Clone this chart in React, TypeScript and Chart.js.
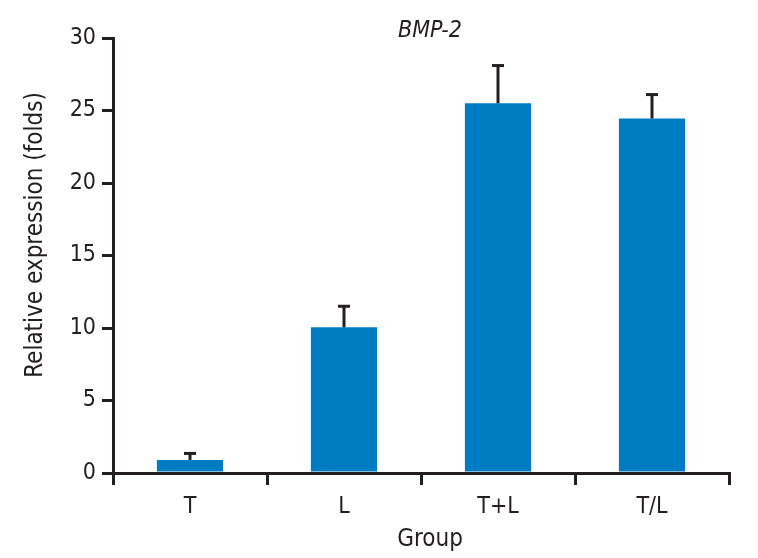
import React, { useEffect, useRef } from "react";
import { Chart, registerables } from "chart.js";

Chart.register(...registerables);

const categories = ["T", "L", "T+L", "T/L"];
const means = [0.9, 10.05, 25.5, 24.45];
const errors = [0.45, 1.45, 2.6, 1.65];
const yTicks = [0, 5, 10, 15, 20, 25, 30];
const chartTitle = "BMP-2";
const yTitle = "Relative expression (folds)";
const xTitle = "Group";

const FONT = "'Liberation Sans Narrow', 'DejaVu Sans Condensed', 'Roboto', sans-serif";
const AXIS = "#231f20";
const BAR = "#007cc3";

const decorPlugin = {
  id: "decor",
  afterDatasetsDraw(chart: any) {
    const ctx = chart.ctx;
    const y = chart.scales.y;
    const meta = chart.getDatasetMeta(0);
    ctx.save();
    ctx.strokeStyle = AXIS;
    ctx.lineWidth = 3;
    meta.data.forEach((bar: any, i: number) => {
      const x = bar.x;
      const y0 = y.getPixelForValue(means[i]);
      const y1 = y.getPixelForValue(means[i] + errors[i]);
      ctx.beginPath();
      ctx.moveTo(x, y0);
      ctx.lineTo(x, y1);
      ctx.stroke();
      ctx.beginPath();
      ctx.moveTo(x - 6, y1);
      ctx.lineTo(x + 6, y1);
      ctx.stroke();
    });
    ctx.fillStyle = AXIS;
    ctx.textAlign = "center";
    ctx.textBaseline = "middle";
    ctx.font = `italic 23px ${FONT}`;
    ctx.fillText(chartTitle, 430, 31);
    ctx.font = `24px ${FONT}`;
    ctx.fillText(xTitle, 430, 540);
    ctx.translate(36, 235);
    ctx.rotate(-Math.PI / 2);
    ctx.fillText(yTitle, 0, 0);
    ctx.restore();
  },
};

export default function App() {
  const ref = useRef<HTMLCanvasElement>(null);
  useEffect(() => {
    document.body.style.margin = "0";
    const chart = new Chart(ref.current!, {
      type: "bar",
      data: {
        labels: categories,
        datasets: [
          {
            data: means,
            backgroundColor: BAR,
            barPercentage: 0.43,
            categoryPercentage: 1,
          },
        ],
      },
      options: {
        animation: false,
        responsive: false,
        devicePixelRatio: 1,
        layout: { padding: { left: 0, top: 38, right: 29, bottom: 0 } },
        plugins: { legend: { display: false }, tooltip: { enabled: false }, title: { display: false } },
        scales: {
          x: {
            afterFit: (s: any) => { s.height = 85; },
            grid: { drawOnChartArea: false, drawTicks: true, tickLength: 12, color: AXIS, lineWidth: 3, offset: true },
            border: { display: true, color: AXIS, width: 3 },
            ticks: { color: AXIS, font: { family: FONT, size: 23 }, padding: 8 },
          },
          y: {
            min: 0,
            max: 30,
            afterFit: (s: any) => { s.width = 113; },
            afterBuildTicks: (s: any) => { s.ticks = yTicks.map((v) => ({ value: v })); },
            grid: { drawOnChartArea: false, drawTicks: true, tickLength: 11, color: AXIS, lineWidth: 3 },
            border: { display: true, color: AXIS, width: 3 },
            ticks: { color: AXIS, font: { family: FONT, size: 23 }, padding: 6 },
          },
        },
      },
      plugins: [decorPlugin],
    });
    return () => chart.destroy();
  }, []);
  return (
    <div style={{ width: 758, height: 558 }}>
      <canvas ref={ref} width={758} height={558} />
    </div>
  );
}
